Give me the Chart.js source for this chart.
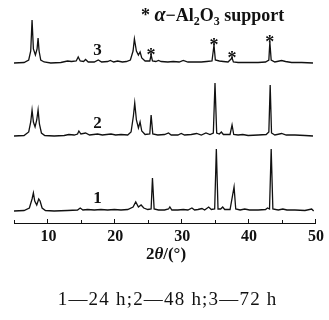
<!DOCTYPE html>
<html>
<head>
<meta charset="utf-8">
<script src="https://cdn.jsdelivr.net/npm/chart.js@4.4.1/dist/chart.umd.min.js"></script>
<style>
  html, body { margin: 0; padding: 0; background: #fff; overflow: hidden; }
  canvas { display: block; }
</style>
</head>
<body>
<canvas id="xrd" width="329" height="320"></canvas>
<script>
// 2theta / intensity pairs (intensity above each curve's own baseline)
const curve1 = [ // 24 h
  [5, 0], [6.5, 0.5], [7.3, 3], [7.7, 12], [7.9, 18], [8.1, 10], [8.4, 6], [8.7, 12], [8.9, 10], [9.2, 3], [9.7, 0.5],
  [11, 0], [13, 0.5], [14.5, 1], [14.9, 3], [15.3, 1], [16, 1.5], [17, 1], [18, 1.5], [19, 1], [20, 1.5], [21, 1],
  [22, 1.5], [22.8, 4], [23.2, 9], [23.6, 4], [24.0, 6], [24.4, 3], [25, 1.5], [25.5, 2], [25.7, 33], [25.95, 2],
  [26.6, 1], [27.5, 1], [28.1, 2], [28.3, 4], [28.6, 1], [29.5, 1], [30.3, 1.5], [31, 1], [31.6, 3], [32, 1],
  [32.5, 1.5], [33.1, 2.5], [33.5, 1], [34.1, 4], [34.5, 1.5], [35.0, 2], [35.25, 62], [35.5, 2], [35.9, 2],
  [36.2, 4], [36.5, 1.5], [37.3, 1.5], [37.9, 24], [38.15, 2], [38.8, 1], [39.5, 2], [40.2, 1], [41.5, 1],
  [42.6, 1.5], [42.9, 3], [43.2, 2], [43.45, 62], [43.7, 2], [44.5, 1], [45.2, 2], [45.8, 1], [47, 1],
  [48.5, 0.5], [49.5, 2], [49.8, 0]
];
const curve2 = [ // 48 h
  [5, 0], [6.5, 0.5], [7.2, 4], [7.5, 14], [7.7, 26], [7.9, 14], [8.15, 9], [8.4, 16], [8.6, 26], [8.8, 12],
  [9.1, 3], [9.6, 0.5], [11, 0], [12.5, 0.5], [13.2, 1.5], [14, 1], [14.5, 2], [14.7, 5], [15.0, 2], [15.7, 3],
  [16.3, 1], [17.5, 2], [18.2, 1], [19.5, 2], [20.2, 1], [21, 1.5], [22, 1], [22.5, 4], [22.85, 20], [23.05, 33],
  [23.3, 16], [23.6, 8], [23.85, 14], [24.1, 5], [24.6, 1.5], [25.3, 2], [25.5, 21], [25.75, 2], [26.5, 1],
  [27.5, 1.5], [28.1, 3], [28.5, 1], [29.5, 1], [30.0, 2.5], [30.5, 1], [31.5, 1.5], [32.3, 2.5], [33, 1],
  [33.7, 3], [34.3, 1.5], [34.8, 3], [35.05, 53], [35.3, 3], [35.7, 2], [36.0, 4], [36.3, 1.5], [37.3, 1.5],
  [37.6, 11], [37.85, 1.5], [38.5, 1], [39.2, 1.5], [40, 0.5], [41.5, 1], [42.7, 1.5], [43.1, 4], [43.3, 51],
  [43.5, 3], [44, 1], [45.0, 2.5], [45.7, 1], [47, 1], [48.5, 0.5], [49.7, 0]
];
const curve3 = [ // 72 h
  [5, 0], [6.5, 0.5], [7.2, 3], [7.5, 12], [7.7, 43], [7.9, 14], [8.2, 8], [8.45, 14], [8.6, 25], [8.75, 12],
  [9.0, 3], [9.5, 1], [10.5, 0], [12, 0.5], [13.0, 2], [13.6, 1.5], [14.3, 2], [14.6, 6], [14.9, 2], [15.4, 1.5],
  [15.7, 3.5], [16.1, 1], [17, 1], [17.6, 3], [18.1, 1], [19, 1.5], [19.4, 2.5], [19.9, 1], [20.5, 2], [21.2, 1],
  [21.8, 1.5], [22.4, 3], [22.8, 12], [23.0, 24], [23.3, 12], [23.6, 8], [23.85, 11], [24.1, 5], [24.6, 2],
  [25.3, 2], [25.5, 8], [25.7, 2], [26.2, 1.5], [26.6, 2.5], [27, 1.5], [28, 1], [28.8, 1.5], [29.7, 1],
  [30.3, 2.5], [31, 1], [32, 1], [33, 1], [33.8, 1.5], [34.6, 2], [34.9, 18], [35.1, 3], [35.7, 2], [36.3, 1.5],
  [37, 1], [37.6, 5], [37.8, 1], [38.5, 0.5], [40, 0.5], [41.5, 0.5], [42.6, 1], [43.1, 3], [43.25, 21],
  [43.45, 3], [44, 1], [45, 2.5], [45.6, 1.5], [46.5, 0.5], [48, 0.5], [49.7, 0]
];
const curveNames = ['1', '2', '3'];
const starPeaks = [25.5, 34.9, 37.6, 43.25]; // alpha-Al2O3 reflections marked on curve 3
const xTicks = [5, 10, 15, 20, 25, 30, 35, 40, 45, 50];
const xLabels = [10, 20, 30, 40, 50];
const caption = '1\u201424 h;2\u201448 h;3\u201472 h';

const curves = [curve1, curve2, curve3];
const offsets = [12, 87, 160]; // vertical stacking of the patterns
const serif = '"Liberation Serif", "Times New Roman", serif';

function peakAt(curve, x) {
  let best = curve[0];
  curve.forEach(p => { if (Math.abs(p[0] - x) < Math.abs(best[0] - x)) best = p; });
  return best;
}

const decor = {
  id: 'decor',
  afterDraw(chart) {
    const ctx = chart.ctx;
    const xs = chart.scales.x, ys = chart.scales.y;
    const axisY = chart.chartArea.bottom;
    ctx.save();
    ctx.fillStyle = '#111';
    ctx.strokeStyle = '#111';

    // inward ticks
    ctx.lineWidth = 1;
    xTicks.forEach(v => {
      const px = Math.round(xs.getPixelForValue(v)) + 0.5;
      const len = v % 10 === 0 ? 4 : 3;
      ctx.beginPath();
      ctx.moveTo(px, axisY);
      ctx.lineTo(px, axisY - len);
      ctx.stroke();
    });

    // tick labels
    ctx.font = 'bold 16px ' + serif;
    ctx.textAlign = 'center';
    ctx.textBaseline = 'alphabetic';
    xLabels.forEach(v => ctx.fillText(String(v), xs.getPixelForValue(v) + 1, axisY + 18));

    // curve numbers
    ctx.font = 'bold 17px ' + serif;
    ctx.textBaseline = 'middle';
    curveNames.forEach((n, i) => {
      ctx.fillText(n, xs.getPixelForValue(17.5), ys.getPixelForValue(offsets[i] + 12));
    });

    // stars over the support peaks
    ctx.font = 'bold 18px ' + serif;
    starPeaks.forEach(x => {
      const p = peakAt(curve3, x);
      ctx.fillText('*', xs.getPixelForValue(p[0]), ys.getPixelForValue(p[1] + offsets[2]) + 1);
    });

    // legend: * alpha-Al2O3 support
    let x = 141;
    const y = 21;
    ctx.textAlign = 'left';
    ctx.textBaseline = 'alphabetic';
    const parts = [
      ['*', 'bold 18px', 0], [' ', 'bold 18px', 0], ['\u03b1', 'italic bold 20px', 0],
      ['\u2212Al', 'bold 18px', 0], ['2', 'bold 12px', 4], ['O', 'bold 18px', 0],
      ['3', 'bold 12px', 4], [' support', 'bold 18px', 0]
    ];
    parts.forEach(([t, f, dy]) => {
      ctx.font = f + ' ' + serif;
      ctx.fillText(t, x, y + dy);
      x += ctx.measureText(t).width;
    });

    // axis title 2θ/(°)
    const tparts = [['2', 'bold 17px'], ['\u03b8', 'italic bold 17px'], ['/(\u00b0)', 'bold 17px']];
    let tw = 0;
    tparts.forEach(([t, f]) => { ctx.font = f + ' ' + serif; tw += ctx.measureText(t).width; });
    x = 166 - tw / 2;
    tparts.forEach(([t, f]) => {
      ctx.font = f + ' ' + serif;
      ctx.fillText(t, x, 259);
      x += ctx.measureText(t).width;
    });

    // caption, drawn glyph by glyph with slight tracking
    ctx.font = '19px ' + serif;
    const track = 1.2;
    let cw = 0;
    for (const ch of caption) cw += ctx.measureText(ch).width + track;
    cw -= track;
    x = 167 - cw / 2;
    for (const ch of caption) {
      ctx.fillText(ch, x, 305);
      x += ctx.measureText(ch).width + track;
    }
    ctx.restore();
  }
};

new Chart(document.getElementById('xrd'), {
  type: 'line',
  data: {
    datasets: curves.map((c, i) => ({
      label: curveNames[i],
      data: c.map(p => ({ x: p[0], y: p[1] + offsets[i] })),
      borderColor: '#111',
      borderWidth: 1.3,
      pointRadius: 0,
      pointHoverRadius: 0,
      tension: 0,
      fill: false
    }))
  },
  options: {
    responsive: false,
    devicePixelRatio: 1,
    animation: false,
    events: [],
    layout: { autoPadding: false, padding: { left: 14, right: 14, top: 0, bottom: 97 } },
    plugins: { legend: { display: false }, tooltip: { enabled: false } },
    scales: {
      x: {
        type: 'linear',
        min: 5,
        max: 50,
        grid: { display: false, drawTicks: false },
        border: { display: true, color: '#111', width: 1 },
        ticks: { display: false }
      },
      y: {
        display: false,
        min: 0,
        max: 223
      }
    }
  },
  plugins: [decor]
});
</script>
</body>
</html>
